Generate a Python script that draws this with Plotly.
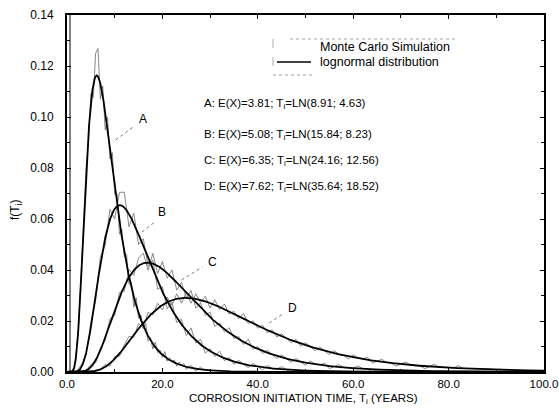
import numpy as np
import plotly.graph_objects as go

# Lognormal parameters of the corrosion initiation time T_i (mean; std, years)
labels = ["A", "B", "C", "D"]
mean_ex = [3.81, 5.08, 6.35, 7.62]
mean_ti = [8.91, 15.84, 24.16, 35.64]
std_ti = [4.63, 8.23, 12.56, 18.52]

# Monte Carlo histogram: deviation from the lognormal density at each bin (x 0.001)
mc_step = [0.5, 1.0, 1.0, 1.0]
mc_dev_a = [0, 0, 0, 0, 1, -1, 2, -2, 3, -3, 4, -5, 9, 11, -6, 4, -7, 5, -4, 6,
            -3, 4, -5, 3, -2, 4, -3, 2, -4, 3, -2, 2, -1, 3, -2, 1, -2, 2, -1, 1,
            -1, 2, -1, 1, 0, 1, -1, 1, 0, 1, -1, 0, 1, 0, -1, 0, 1, 0, 0, 0, 0]
mc_dev_b = [0, 0, 0, 1, -1, 2, -2, 3, -3, 4,
            -4, 5, 6, -5, 4, -4, 3, -3, 4, -3,
            2, -3, 3, -2, 2, -2, 3, -1, 2, -2,
            1, -1, 2, -1, 1, -1, 1, 0, -1, 1,
            0, -1, 1, 0, 0, 1, 0, -1, 0, 0, 0]
mc_dev_c = [0, 0, 0, 0, 0, 1, -1, 1, -1, 2,
            -2, 2, -2, 3, -2, 3, 4, -3, 4, -3,
            3, -2, 3, -3, 2, -2, 3, -2, 2, -1,
            2, -2, 1, -1, 2, -1, 1, -1, 2, -1,
            1, -1, 1, 0, -1, 1, 0, -1, 1, 0,
            -1, 1, 0, 0, 1, -1, 0, 1, 0, 0,
            0, 1, 0, 0, -1, 0, 0, 0, 0, 0, 0]
mc_dev_d = [0, 0, 0, 0, 0, 0, 0, 0, 1, -1,
            1, -1, 1, 2, -1, 2, -2, 2, -1, 2,
            -2, 2, -2, 2, -2, 2, -2, 2, -1, 2,
            -2, 2, -1, 2, -1, 1, -1, 2, -1, 1,
            -1, 1, -1, 1, -1, 1, 0, -1, 1, -1,
            1, 0, -1, 1, 0, -1, 1, 0, 0, -1,
            1, 0, 0, 1, -1, 0, 1, 0, 0, -1,
            0, 1, 0, 0, 0, -1, 0, 1, 0, 0,
            0, 0, 1, 0, 0, 0, 0, 0, 0, 0,
            0, 0, 0, 0, 0, 0]
mc_devs = [mc_dev_a, mc_dev_b, mc_dev_c, mc_dev_d]

# positions of the curve letters and their leader lines (data units)
tag_xy = [(15.9, 0.0992), (20.0, 0.0627), (30.5, 0.0431), (47.2, 0.0251)]
lead_xy = [((10.2, 0.091), (13.8, 0.096)), ((15.7, 0.0549), (18.4, 0.0588)),
           ((24.0, 0.0361), (28.4, 0.0412)), ((42.4, 0.0192), (45.5, 0.0231))]
text_y = [0.1050, 0.0930, 0.0828, 0.0726]

FONT = "Liberation Sans, Arial, sans-serif"


def lognormal_pdf(x, m, s):
    sig2 = np.log(1.0 + (s / m) ** 2)
    mu = np.log(m) - sig2 / 2.0
    x = np.asarray(x, dtype=float)
    out = np.zeros_like(x)
    pos = x > 0
    out[pos] = np.exp(-(np.log(x[pos]) - mu) ** 2 / (2 * sig2)) / (x[pos] * np.sqrt(2 * np.pi * sig2))
    return out


fig = go.Figure()

# Monte Carlo histograms (thin grey)
for m, s, dev, step in zip(mean_ti, std_ti, mc_devs, mc_step):
    xb = np.arange(len(dev)) * step
    yb = np.clip(lognormal_pdf(xb, m, s) + np.array(dev) / 1000.0, 0, None)
    fig.add_trace(go.Scatter(x=xb, y=yb, mode="lines",
                             line=dict(color="#7a7a7a", width=0.9),
                             showlegend=False, hoverinfo="skip"))

# Fitted lognormal densities (solid black)
xs = np.linspace(0, 100, 2001)
for m, s in zip(mean_ti, std_ti):
    fig.add_trace(go.Scatter(x=xs, y=lognormal_pdf(xs, m, s), mode="lines",
                             line=dict(color="black", width=1.8),
                             showlegend=False, hoverinfo="skip"))

annotations = []
shapes = []

# curve letters with leader lines
for lab, (tx, ty), ((x0, y0), (x1, y1)) in zip(labels, tag_xy, lead_xy):
    annotations.append(dict(x=tx, y=ty, text=lab, showarrow=False,
                            font=dict(family=FONT, size=12, color="black")))
    shapes.append(dict(type="line", x0=x0, y0=y0, x1=x1, y1=y1, xref="x", yref="y",
                       line=dict(color="#555", width=0.8, dash="dot")))

# parameter text block
for lab, ex, m, s, ty in zip(labels, mean_ex, mean_ti, std_ti, text_y):
    annotations.append(dict(
        x=28.2, y=ty, xanchor="left", yanchor="middle", showarrow=False,
        text=f"{lab}: E(X)={ex:.2f}; T<sub>i</sub>=LN({m:.2f}; {s:.2f})",
        font=dict(family=FONT, size=11.5, color="black")))

# plot-area geometry in pixels, used for the legend box and axis titles
W, H = 477.0, 357.0
L, T = 67.0, 15.0


def px(xp):
    return (xp - L) / W


def py(yp):
    return 1 - (yp - T) / H


shapes += [
    dict(type="line", xref="paper", yref="paper", x0=px(273), x1=px(273), y0=py(39), y1=py(75),
         line=dict(color="#888", width=0.7, dash="dash")),
    dict(type="line", xref="paper", yref="paper", x0=px(290), x1=px(455), y0=py(39), y1=py(39),
         line=dict(color="#888", width=0.8, dash="dot")),
    dict(type="line", xref="paper", yref="paper", x0=px(273), x1=px(312), y0=py(75), y1=py(75),
         line=dict(color="#888", width=0.8, dash="dot")),
    dict(type="line", xref="paper", yref="paper", x0=px(277), x1=px(311), y0=py(62), y1=py(62),
         line=dict(color="black", width=1.6)),
    # inner second line of the left frame
    dict(type="line", xref="paper", yref="paper", x0=px(70), x1=px(70), y0=0, y1=1,
         line=dict(color="black", width=1)),
]
annotations += [
    dict(xref="paper", yref="paper", x=px(318), y=py(47), xanchor="left", yanchor="middle",
         showarrow=False, text="Monte Carlo Simulation",
         font=dict(family=FONT, size=12.5, color="black")),
    dict(xref="paper", yref="paper", x=px(318), y=py(62), xanchor="left", yanchor="middle",
         showarrow=False, text="lognormal distribution",
         font=dict(family=FONT, size=12.5, color="black")),
    # axis titles
    dict(xref="paper", yref="paper", x=px(303), y=py(399), xanchor="center", yanchor="middle",
         showarrow=False, text="CORROSION INITIATION TIME, T<sub>i</sub> (YEARS)",
         font=dict(family=FONT, size=11.5, color="black")),
    dict(xref="paper", yref="paper", x=px(16), y=py(210), xanchor="center", yanchor="middle",
         showarrow=False, text="f(T<sub>i</sub>)", textangle=-90,
         font=dict(family=FONT, size=12, color="black")),
]

fig.update_layout(
    width=559, height=412,
    margin=dict(l=67, r=15, t=15, b=40),
    paper_bgcolor="white", plot_bgcolor="white",
    font=dict(family=FONT, size=11, color="black"),
    shapes=shapes, annotations=annotations,
    showlegend=False,
)
fig.update_xaxes(
    range=[0, 100], dtick=20, tickformat=".1f", automargin=False,
    ticklabeloverflow="allow",
    showgrid=False, zeroline=False,
    showline=True, linewidth=2, linecolor="black", mirror="ticks",
    ticks="inside", ticklen=4, tickcolor="black", ticklabelstandoff=0,
    minor=dict(dtick=10, ticks="inside", ticklen=3, tickcolor="black"),
    tickfont=dict(family=FONT, size=11.5),
)
fig.update_yaxes(
    range=[0, 0.14], dtick=0.02, tickformat=".2f", automargin=False,
    showgrid=False, zeroline=False,
    showline=True, linewidth=2, linecolor="black", mirror="ticks",
    ticks="inside", ticklen=4, tickcolor="black", ticklabelstandoff=9,
    minor=dict(dtick=0.01, ticks="inside", ticklen=3, tickcolor="black"),
    tickfont=dict(family=FONT, size=12),
)

fig.write_html("out.html")
